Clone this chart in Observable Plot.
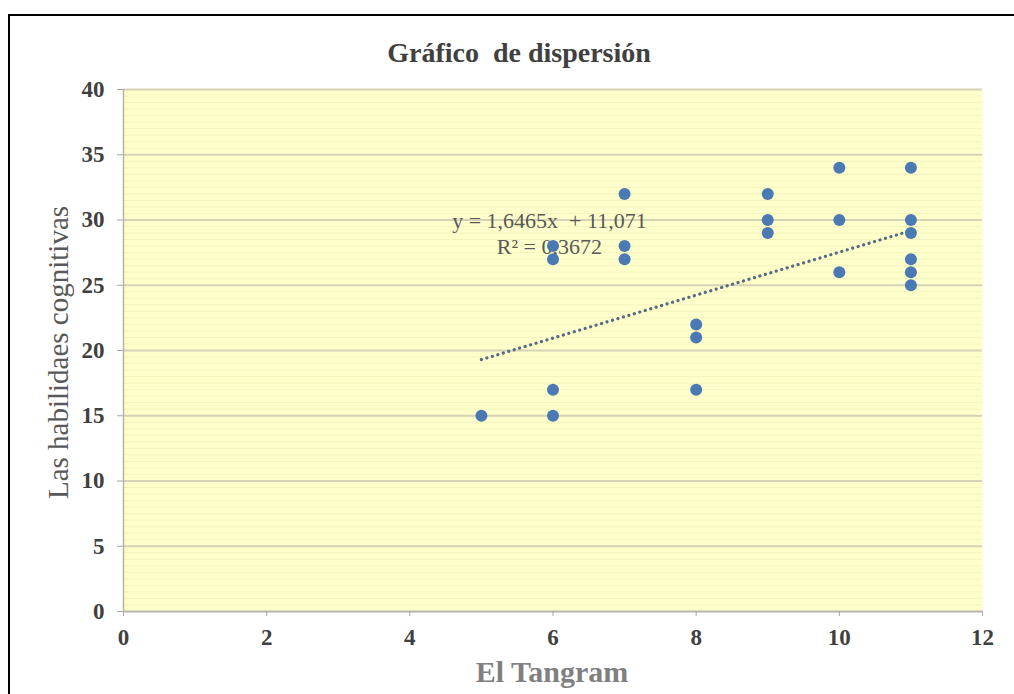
<!DOCTYPE html>
<html>
<head>
<meta charset="utf-8">
<script src="https://cdn.jsdelivr.net/npm/d3@7"></script>
<script src="https://cdn.jsdelivr.net/npm/@observablehq/plot@0.6"></script>
<style>
  html, body { margin: 0; padding: 0; background: #fff; overflow: hidden; }
  #wrap { position: relative; width: 1014px; height: 694px; overflow: hidden; }
  #border { position: absolute; left: 8px; top: 14px; width: 1100px; height: 800px;
            border-left: 2px solid #000; border-top: 2px solid #000; pointer-events: none; }
  svg { display: block; }
</style>
</head>
<body>
<div id="wrap"><div id="chart"></div><div id="border"></div></div>
<script>
// Data
const tangram      = [5, 6, 6, 6, 6, 7, 7, 7, 8, 8, 8, 9, 9, 9, 10, 10, 10, 11, 11, 11, 11, 11, 11];
const habilidades  = [15, 15, 17, 27, 28, 27, 28, 32, 17, 21, 22, 29, 30, 32, 26, 30, 34, 25, 26, 27, 29, 30, 34];
const trendSlope = 1.6465;
const trendIntercept = 11.071;
const equationLines = ["y = 1,6465x  + 11,071", "R² = 0,3672"];
const xTicks = [0, 2, 4, 6, 8, 10, 12];
const yTicks = [0, 5, 10, 15, 20, 25, 30, 35, 40];
const titleText = "Gráfico  de dispersión";
const xLabel = "El Tangram";
const yLabel = "Las habilidaes cognitivas";

const points = tangram.map((x, i) => ({x, y: habilidades[i]}));
const xMin = d3.min(tangram), xMax = d3.max(tangram);
const trend = [xMin, xMax].map(x => ({x, y: trendIntercept + trendSlope * x}));
const stripes = d3.range(0, 40, 0.5);

const serif = "'Liberation Serif', 'DejaVu Serif', serif";

const chart = Plot.plot({
  width: 1014,
  height: 694,
  marginLeft: 123,
  marginRight: 32,
  marginTop: 89,
  marginBottom: 83,
  x: {domain: [0, 12]},
  y: {domain: [0, 40]},
  style: {fontFamily: serif, background: "transparent"},
  marks: [
    Plot.frame({fill: "#ffffcc", stroke: null}),
    Plot.ruleY(stripes, {stroke: "#f3f3bc", strokeWidth: 1}),
    Plot.gridY(yTicks, {stroke: "#d6d2b4", strokeOpacity: 1, strokeWidth: 2}),
    Plot.ruleX([0], {stroke: "#b4b4a8", strokeWidth: 1.5}),
    Plot.ruleY([0], {stroke: "#b4b4a8", strokeWidth: 1.5}),
    Plot.axisY(yTicks, {tickSize: 6, tickPadding: 13, fontSize: 23, fontWeight: "bold",
      fill: "#404040", stroke: "#a8a8a8", label: null}),
    Plot.axisX(xTicks, {tickSize: 5, tickPadding: 12, fontSize: 23, fontWeight: "bold",
      fill: "#404040", stroke: "#a8a8a8", label: null}),
    Plot.text(equationLines, {x: () => 5.95, y: (d, i) => 29.96 - i * 1.99, text: d => d,
      fontSize: 22, fill: "#595959"}),
    Plot.line(trend, {x: "x", y: "y", stroke: "#566b84", strokeWidth: 3.2,
      strokeDasharray: "0.1 5.6", strokeLinecap: "round"}),
    Plot.dot(points, {x: "x", y: "y", r: 6, fill: "#4a79b3", stroke: null}),
    Plot.text([titleText], {frameAnchor: "top", lineAnchor: "middle", textAnchor: "middle",
      dx: -34, dy: -36, fontSize: 28, fontWeight: "bold", fill: "#404040"}),
    Plot.text([xLabel], {frameAnchor: "bottom", lineAnchor: "middle", textAnchor: "middle",
      dx: -1, dy: 61, fontSize: 30, fontWeight: "bold", fill: "#808080"}),
    Plot.text([yLabel], {frameAnchor: "left", lineAnchor: "middle", textAnchor: "middle",
      rotate: -90, dx: -65, dy: 2, fontSize: 29, fill: "#595959"})
  ]
});
document.getElementById("chart").appendChild(chart);
</script>
</body>
</html>
